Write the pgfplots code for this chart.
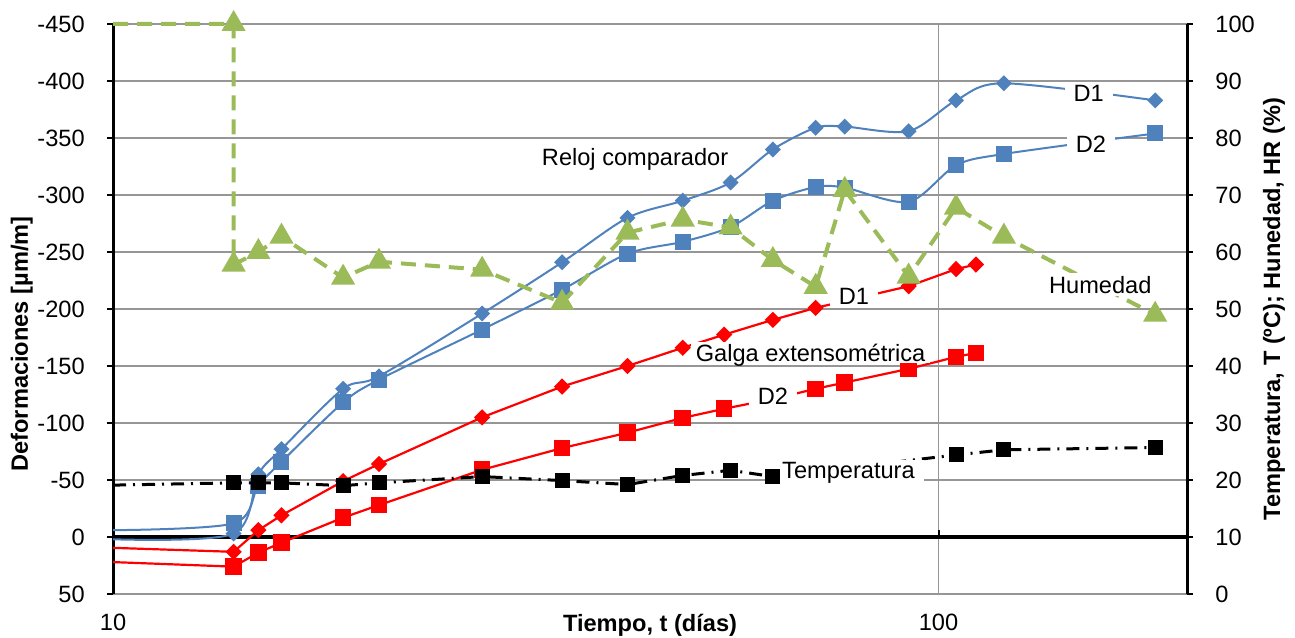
\documentclass[border=0pt]{standalone}
\usepackage{fontspec}
\setmainfont{Liberation Sans}
\usepackage{pgfplots}
\pgfplotsset{compat=1.18}
\definecolor{cblue}{HTML}{4F81BD}
\definecolor{cred}{HTML}{FF0000}
\definecolor{cgreen}{HTML}{9BBB59}
\definecolor{cgrid}{HTML}{969696}
\newcommand{\fs}{\fontsize{11.8}{14}\selectfont}
\begin{document}
\begin{tikzpicture}
\begin{axis}[
  name=main,
  scale only axis, width=537pt, height=285pt,
  xmode=log, log basis x=10, xmin=10, xmax=200,
  ymin=-450, ymax=50, y dir=reverse,
  axis y line*=left, axis x line*=bottom,
  x axis line style={draw=none},
  y axis line style={line width=1.5pt},
  xtick={10,100}, xticklabels={10,100}, xminorticks=false,
  ytick={-450,-400,...,50},
  tick align=outside, major tick length=3pt,
  xtick style={draw=none},
  ytick style={black, line width=1pt},
  xmajorgrids, ymajorgrids,
  grid style={cgrid, line width=0.8pt},
  tick label style={font=\fs},
  yticklabel style={anchor=east, inner sep=0pt, xshift=-11pt},
  xticklabel style={anchor=base, inner sep=0pt, yshift=-15.3pt},
  /pgf/number format/assume math mode=true,
]
\draw[black, line width=2pt] (axis cs:10,0) -- (axis cs:200,0);
\draw[black, line width=1pt] (axis cs:100,0) -- ++(0pt,3.5pt);
% Reloj comparador D1
\addplot[cblue, line width=1pt, smooth, mark=diamond*, mark size=3.3pt,
  mark options={xscale=1.33}, mark indices={2,...,30}] coordinates {
  (10,2) (14,-3) (15,-55) (16,-77) (19,-130) (21,-141) (28,-196) (35,-241)
  (42,-280) (49,-295) (56,-311) (63,-340) (71,-359) (77,-360) (92,-356)
  (105,-383) (120,-398) (183,-383)};
% Reloj comparador D2
\addplot[cblue, line width=1pt, smooth, mark=square*, mark size=3.5pt,
  mark indices={2,...,30}] coordinates {
  (10,-6) (14,-12) (15,-45) (16,-66) (19,-118) (21,-138) (28,-182) (35,-217)
  (42,-248.5) (49,-259) (56,-272) (63,-295) (71,-307) (77,-306.5) (92,-294)
  (105,-326) (120,-336) (183,-354)};
% Galga D1
\addplot[cred, line width=1.1pt, mark=diamond*, mark size=3.3pt,
  mark options={xscale=1.33}, mark indices={2,...,30}] coordinates {
  (10,9.5) (14,13) (15,-6) (16,-19) (19,-49) (21,-64) (28,-105) (35,-132)
  (42,-150) (49,-166) (55,-177.5) (63,-190.5) (71,-201) (92,-220)
  (105,-235) (111,-239)};
% Galga D2
\addplot[cred, line width=1.1pt, mark=square*, mark size=3.6pt,
  mark indices={2,...,30}] coordinates {
  (10,22) (14,26) (15,13.7) (16,5) (19,-17) (21,-28) (28,-59) (35,-78)
  (42,-91.5) (49,-104.5) (55,-112.5) (63,-121) (71,-130) (77,-135.5)
  (92,-147.5) (105,-158) (111,-161.5)};
\end{axis}
\begin{axis}[
  name=raxis,
  scale only axis, width=537pt, height=285pt,
  xmode=log, log basis x=10, xmin=10, xmax=200,
  ymin=0, ymax=100,
  axis y line*=right, axis x line=none,
  y axis line style={line width=1.5pt},
  ytick={0,10,...,100},
  tick align=outside, major tick length=3pt,
  ytick style={black, line width=1pt},
  tick label style={font=\fs},
  yticklabel style={anchor=west, inner sep=0pt, xshift=11pt},
  /pgf/number format/assume math mode=true,
  clip=false,
]
% Humedad
\addplot[cgreen, line width=2pt, dash pattern=on 7.5pt off 4.5pt,
  mark=triangle*, mark size=5pt, mark options={solid},
  mark indices={2,...,30}] coordinates {
  (10,100) (14,100) (14,57.8) (15,60) (16,62.7) (19,55.5) (21,58.3) (28,56.9)
  (35,51.1) (42,63.4) (49,65.7) (56,64.3) (63,58.6) (71,53.9) (77,70.9)
  (92,55.7) (105,67.8) (120,62.7) (183,49)};
% Temperatura
\addplot[black, line width=1.5pt, dash pattern=on 6.5pt off 3.5pt on 1pt off 3.5pt,
  mark=square*, mark size=3pt, mark options={solid},
  mark indices={2,...,30}] coordinates {
  (10,19.1) (14,19.5) (15,19.5) (16,19.5) (19,19) (21,19.5) (28,20.6) (35,19.9)
  (42,19.2) (49,20.8) (56,21.7) (63,20.6) (105,24.4) (120,25.3)
  (183,25.7)};
\begin{scope}[every node/.style={fill=white, inner xsep=4.5pt, inner ysep=1.5pt, anchor=base, font=\fs}]
\node at (axis cs:42.9,75.1) {Reloj comparador};
\node at (axis cs:152,86.4) {D1};
\node at (axis cs:153,77.4) {D2};
\node at (axis cs:157,52.8) {Humedad};
\node at (axis cs:79,50.8) {D1};
\node[inner xsep=2.5pt, inner ysep=1pt, text depth=0pt] at (axis cs:70,40.8) {Galga extensométrica};
\node at (axis cs:63,33.2) {D2};
\node at (axis cs:77.8,20.2) {Temperatura};
\end{scope}
\end{axis}
\node[font=\fs\bfseries, anchor=base] at ([yshift=-18.5pt]raxis.south) {Tiempo, t (días)};
\node[font=\fs\bfseries, rotate=90, anchor=base] at ([xshift=-42.5pt, yshift=-17.5pt]raxis.west) {Deformaciones [µm/m]};
\node[font=\fs\bfseries, rotate=90, anchor=base] at ([xshift=46.5pt]raxis.east) {Temperatura, T (ºC); Hunedad, HR (\%)};
\pgfresetboundingbox
\path[use as bounding box] ([shift={(-56.5pt,-21.5pt)}]raxis.south west) rectangle ([shift={(54pt,12pt)}]raxis.north east);
\end{tikzpicture}
\end{document}
